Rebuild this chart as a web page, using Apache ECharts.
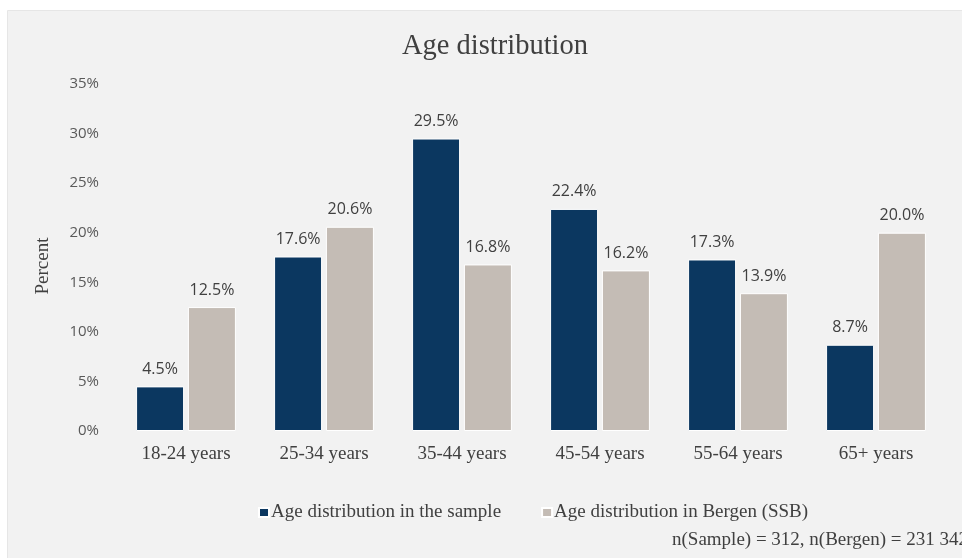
<!DOCTYPE html>
<html><head><meta charset="utf-8">
<script src="https://cdn.jsdelivr.net/npm/echarts@6/dist/echarts.min.js"></script>
<style>html,body{margin:0;padding:0;background:#fff}#c{width:962px;height:558px}</style>
</head><body><div id="c"></div>
<script>
const categories = ['18-24 years','25-34 years','35-44 years','45-54 years','55-64 years','65+ years'];
const sampleValues = [4.5, 17.6, 29.5, 22.4, 17.3, 8.7];
const bergenValues = [12.5, 20.6, 16.8, 16.2, 13.9, 20.0];
const seriesNames = ['Age distribution in the sample','Age distribution in Bergen (SSB)'];
const titleText = 'Age distribution';
const yAxisName = 'Percent';
const footnote = 'n(Sample) = 312, n(Bergen) = 231 342';

const serif = '"Liberation Serif", "DejaVu Serif", serif';
const sans = '"Open Sans", "Noto Sans", sans-serif';
const chart = echarts.init(document.getElementById('c'));
const labelCfg = {show:true, position:'top', distance:9, fontFamily:sans, fontSize:16, color:'#404040', formatter: p => p.value.toFixed(1) + '%'};
chart.setOption({
  backgroundColor:'#ffffff',
  animation:false,
  graphic:[
    {type:'rect', left:7, top:10, shape:{width:960, height:550}, style:{fill:'#f2f2f2', stroke:'#e6e6e6'}, z:-10},
    {type:'text', left:672, top:531, style:{text:footnote, font:'19px ' + serif, fill:'#404040'}},
    {type:'text', x:43, y:266, rotation:Math.PI/2, style:{text:yAxisName, font:'19px ' + serif, fill:'#404040', textAlign:'center', textVerticalAlign:'middle'}}
  ],
  title:{text:titleText, left:490, textAlign:'center', top:27, textStyle:{fontFamily:serif, fontSize:28.5, fontWeight:'normal', color:'#404040'}},
  legend:{data:seriesNames, bottom:31, left:253, icon:'rect', itemWidth:10, itemHeight:9, itemGap:40,
    textStyle:{fontFamily:serif, fontSize:19, color:'#404040', padding:[0,0,0,-3]}},
  grid:{left:117, right:17, top:84, bottom:127},
  xAxis:{type:'category', data:categories, axisTick:{show:false}, axisLine:{show:false},
    axisLabel:{fontFamily:serif, fontSize:19, color:'#404040', margin:14}},
  yAxis:{type:'value', min:0, max:35, interval:5,
    splitLine:{show:false}, axisLine:{show:false}, axisTick:{show:false},
    axisLabel:{fontFamily:sans, fontSize:15, color:'#595959', margin:18, formatter: v => v + '%'}},
  series:[
    {name:seriesNames[0], type:'bar', data:sampleValues, barWidth:48, barGap:'8%', itemStyle:{color:'#0b3760', borderColor:'#ffffff', borderWidth:1}, label:labelCfg},
    {name:seriesNames[1], type:'bar', data:bergenValues, barWidth:48, itemStyle:{color:'#c4bcb5', borderColor:'#ffffff', borderWidth:1}, label:labelCfg}
  ]
});
</script></body></html>
